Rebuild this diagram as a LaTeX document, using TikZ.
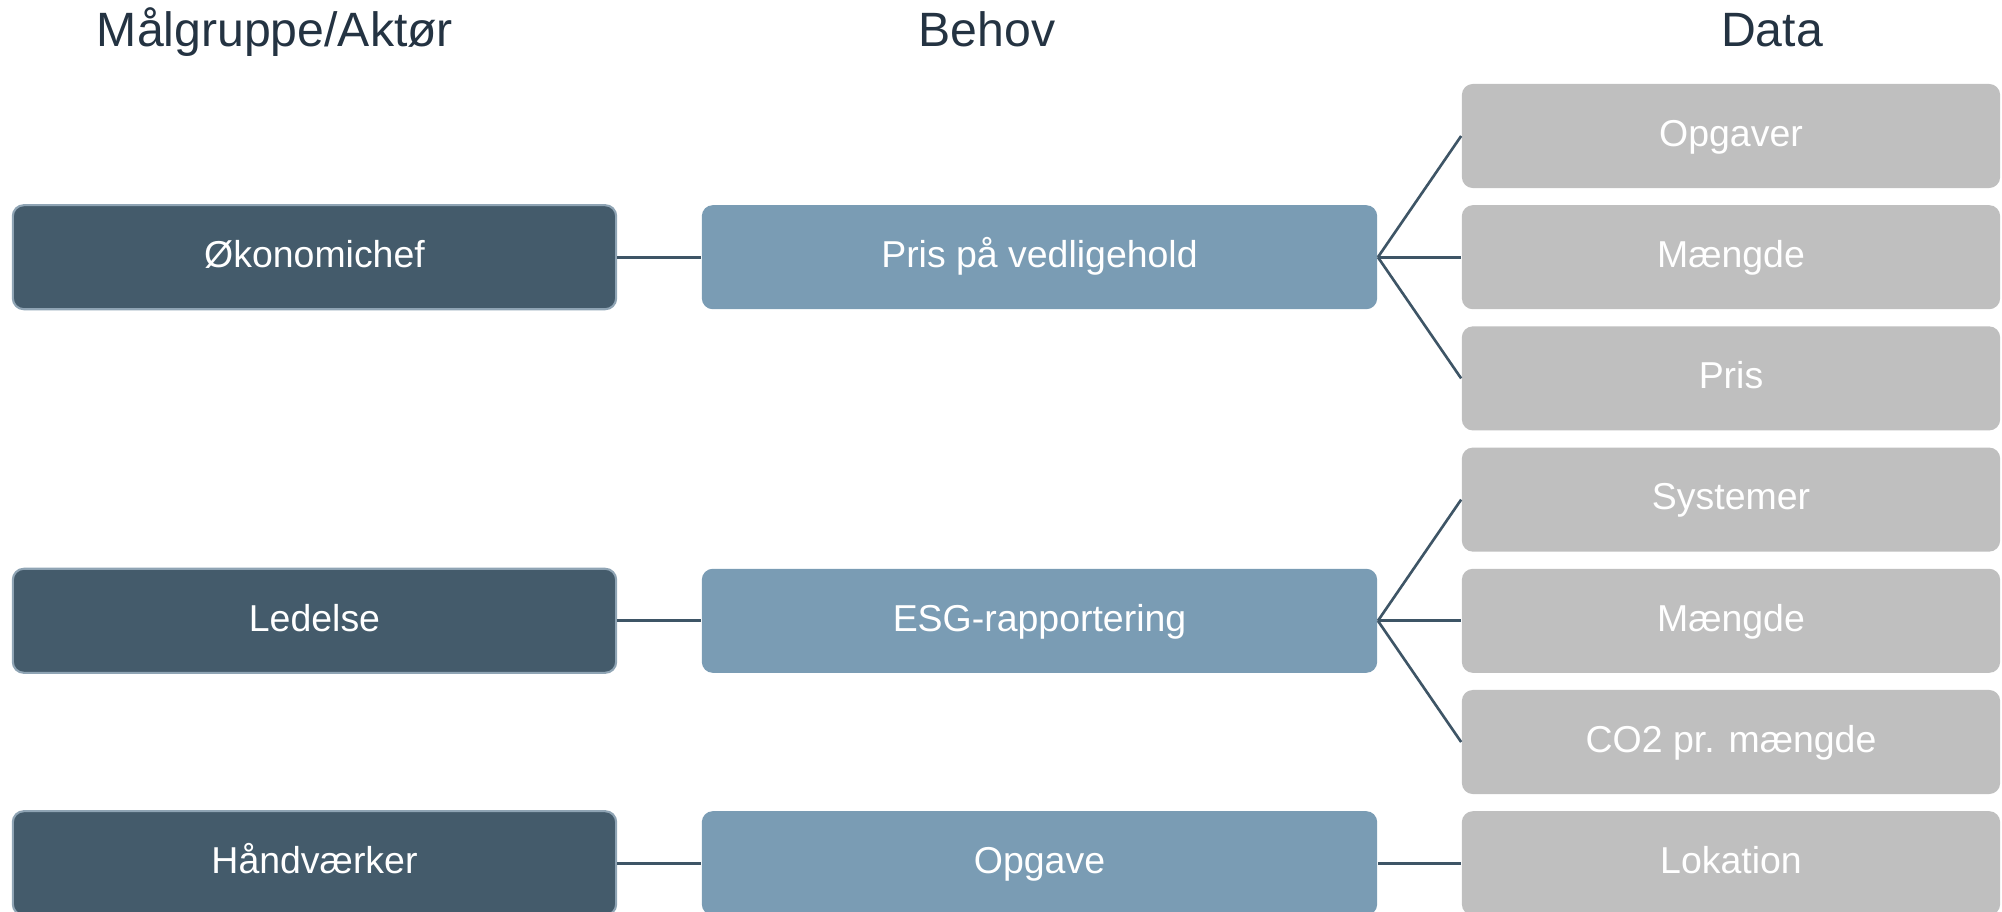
\documentclass[tikz,border=0pt]{standalone}
\usepackage{fontspec}
\setmainfont{Liberation Sans}
\definecolor{leftfill}{HTML}{445B6B}
\definecolor{leftborder}{HTML}{8FA4B4}
\definecolor{midfill}{HTML}{7A9CB4}
\definecolor{rightfill}{HTML}{BFBFBF}
\definecolor{titlecol}{HTML}{243342}
\definecolor{linecol}{HTML}{3E5566}
\begin{document}
\begin{tikzpicture}[x=0.01cm,y=-0.01cm,
  box/.style={rounded corners=0.11cm, minimum height=1.04cm, inner sep=0pt,
    text=white, font=\fontsize{10.65}{12}\selectfont, text height=0.8em, text depth=0.22em, anchor=center},
  leftbox/.style={box, fill=leftfill, draw=leftborder, line width=0.6pt, minimum width=6.03cm},
  midbox/.style={box, fill=midfill, minimum width=6.75cm},
  rightbox/.style={box, fill=rightfill, minimum width=5.38cm},
  title/.style={text=titlecol, font=\fontsize{13.7}{15}\selectfont, inner sep=0pt, anchor=base},
  conn/.style={draw=linecol, line width=0.75pt}]
\useasboundingbox (0,0) rectangle (2002,912);
\clip (0,0) rectangle (2002,912);
% titles
\node[title] (t1) at (275,46) {Målgruppe/Aktør};
\node[title] (t2) at (987,46) {Behov};
\node[title] (t3) at (1772,46) {Data};
% left
\node[leftbox] (l1) at (314.5,257.2) {Økonomichef};
\node[leftbox] (l2) at (314.5,620.8) {Ledelse};
\node[leftbox] (l3) at (314.5,863.2) {Håndværker};
% middle
\node[midbox] (m1) at (1039.5,257.2) {Pris på vedligehold};
\node[midbox] (m2) at (1039.5,620.8) {ESG-rapportering};
\node[midbox] (m3) at (1039.5,863.2) {Opgave};
% right
\node[rightbox] (r1) at (1731,136) {Opgaver};
\node[rightbox] (r2) at (1731,257.2) {Mængde};
\node[rightbox] (r3) at (1731,378.4) {Pris};
\node[rightbox] (r4) at (1731,499.6) {Systemer};
\node[rightbox] (r5) at (1731,620.8) {Mængde};
\node[rightbox] (r6) at (1731,742) {CO2 pr. mængde};
\node[rightbox] (r7) at (1731,863.2) {Lokation};
% connectors
\draw[conn] (l1.east) -- (m1.west);
\draw[conn] (l2.east) -- (m2.west);
\draw[conn] (l3.east) -- (m3.west);
\draw[conn] (m1.east) -- (r1.west);
\draw[conn] (m1.east) -- (r2.west);
\draw[conn] (m1.east) -- (r3.west);
\draw[conn] (m2.east) -- (r4.west);
\draw[conn] (m2.east) -- (r5.west);
\draw[conn] (m2.east) -- (r6.west);
\draw[conn] (m3.east) -- (r7.west);
\end{tikzpicture}
\end{document}
